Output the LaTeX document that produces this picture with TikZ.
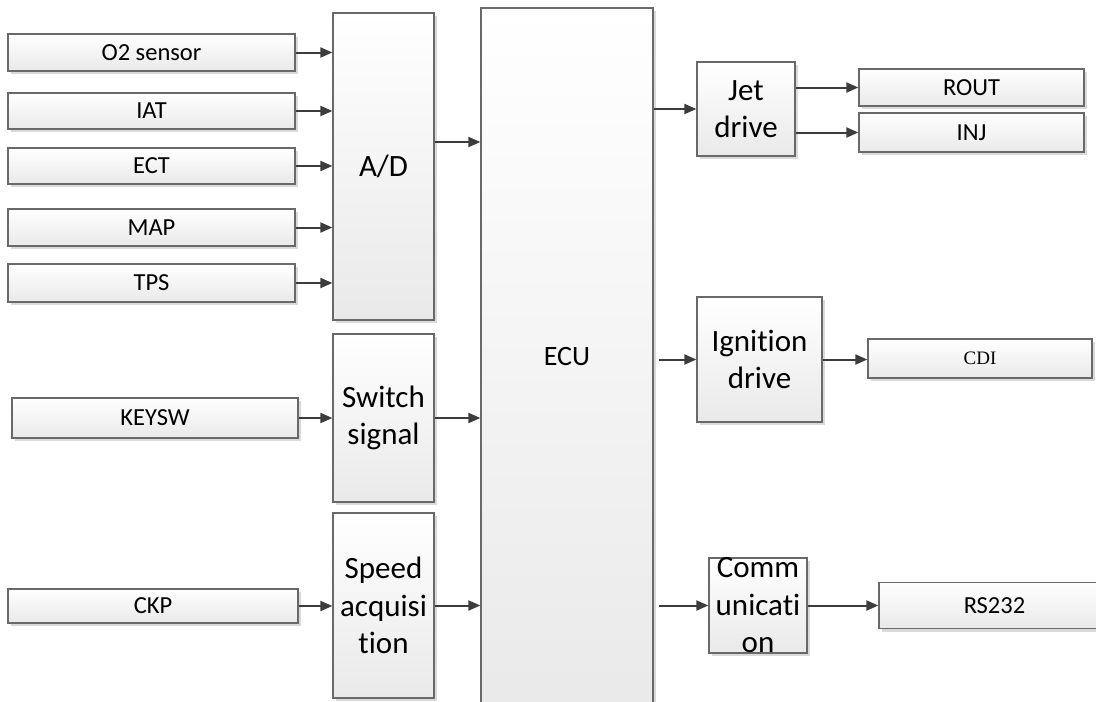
\documentclass[tikz,border=0pt]{standalone}
\usepackage{fontspec}
\setmainfont{Carlito}[Ligatures=NoCommon]
\newfontfamily\cdifont{Liberation Serif}
\usetikzlibrary{arrows.meta,shadows}
\definecolor{ecline}{RGB}{105,105,105}
\definecolor{ecarrow}{RGB}{60,60,60}
\definecolor{ecshade}{RGB}{233,233,233}
\definecolor{ecshadow}{RGB}{218,218,218}
\tikzset{
  box/.style={draw=ecline, line width=1.3pt, top color=white, bottom color=ecshade,
              drop shadow={shadow xshift=3pt, shadow yshift=-3pt, fill=ecshadow, opacity=1},
              inner sep=0pt, align=center},
  sig/.style={box, minimum width=287pt, minimum height=37pt, font=\fontsize{24.5}{29}\selectfont},
  unit/.style={box, minimum width=101pt, font=\fontsize{31}{37.5}\selectfont},
  bigtext/.style={align=center, inner sep=0pt, font=\fontsize{31}{37.5}\selectfont},
  arr/.style={-{Triangle[length=12pt, width=10pt]}, line width=2pt, draw=ecarrow}
}

\begin{document}
\begin{tikzpicture}[x=1pt, y=-1pt]
  \path[use as bounding box, fill=white] (0,0) rectangle (1096,702);

  % inputs
  \node[sig] (o2)    at (151.5,52.5) {O2 sensor};
  \node[sig, minimum height=36pt] (iat) at (151.5,111) {IAT};
  \node[sig, minimum height=36pt] (ect) at (151.5,166) {ECT};
  \node[sig] (map)   at (151.5,227.5) {MAP};
  \node[sig, minimum height=38pt] (tps) at (151.5,283) {TPS};
  \node[sig, minimum width=286pt, minimum height=40pt] (keysw) at (155,418) {KEYSW};
  \node[sig, minimum width=290pt, minimum height=34pt] (ckp)   at (153,606) {CKP};

  % conversion blocks
  \node[unit, minimum height=307pt] (ad)  at (383.5,166.5) {A/D};
  \node[unit, minimum height=168pt] (sw)  at (383.5,418)   {Switch\\signal};
  \node[unit, minimum height=185pt] (spd) at (383.5,605.5) {Speed\\acquisi\\tion};

  % control unit
  \node[box, minimum width=172pt, minimum height=712pt] (ecu) at (567,364) {};
  \node[font=\fontsize{28}{34}\selectfont, inner sep=0pt] (ecutext) at (567,357) {ECU};

  % drivers
  \node[unit, minimum width=98pt, minimum height=94pt]   (jet)  at (746,109)   {Jet\\drive};
  \node[unit, minimum width=125pt, minimum height=125pt] (ign)  at (759.5,359.5) {Ignition\\drive};
  \node[unit, minimum width=98pt, minimum height=95pt]   (comm) at (758,605.5) {};
  \node[bigtext] (commtext) at (comm.center) {Comm\\unicati\\on};

  % outputs
  \node[sig, minimum width=225pt] (rout) at (971.5,87.5)  {ROUT};
  \node[sig, minimum width=225pt, minimum height=39pt] (inj)  at (971.5,132.5) {INJ};
  \node[sig, minimum width=224pt, minimum height=39pt, font=\fontsize{19}{23}\cdifont] (cdi) at (980,358.5) {CDI};
  \node[sig, minimum width=231pt, minimum height=46pt] (rs) at (994.5,605.5) {RS232};

  % connectors
  \foreach \s in {o2,iat,ect,map,tps}
    \draw[arr] (\s.east) -- (\s.east -| ad.west);
  \draw[arr] (keysw.east) -- (keysw.east -| sw.west);
  \draw[arr] (ckp.east) -- (ckp.east -| spd.west);
  \draw[arr] ([yshift=24.5pt]ad.east) -- ([yshift=24.5pt]ad.east -| ecu.west);
  \draw[arr] (sw.east) -- (sw.east -| ecu.west);
  \draw[arr] (spd.east) -- (spd.east -| ecu.west);
  \draw[arr] (jet.west -| ecu.east) -- (jet.west);
  \draw[arr, shorten <=5pt] (ign.west -| ecu.east) -- (ign.west);
  \draw[arr, shorten <=5pt] (comm.west -| ecu.east) -- (comm.west);
  \draw[arr] (rout.west -| jet.east) -- (rout.west);
  \draw[arr] (inj.west -| jet.east) -- (inj.west);
  \draw[arr] (ign.east) -- (ign.east -| cdi.west);
  \draw[arr] (comm.east) -- (comm.east -| rs.west);
\end{tikzpicture}
\end{document}
